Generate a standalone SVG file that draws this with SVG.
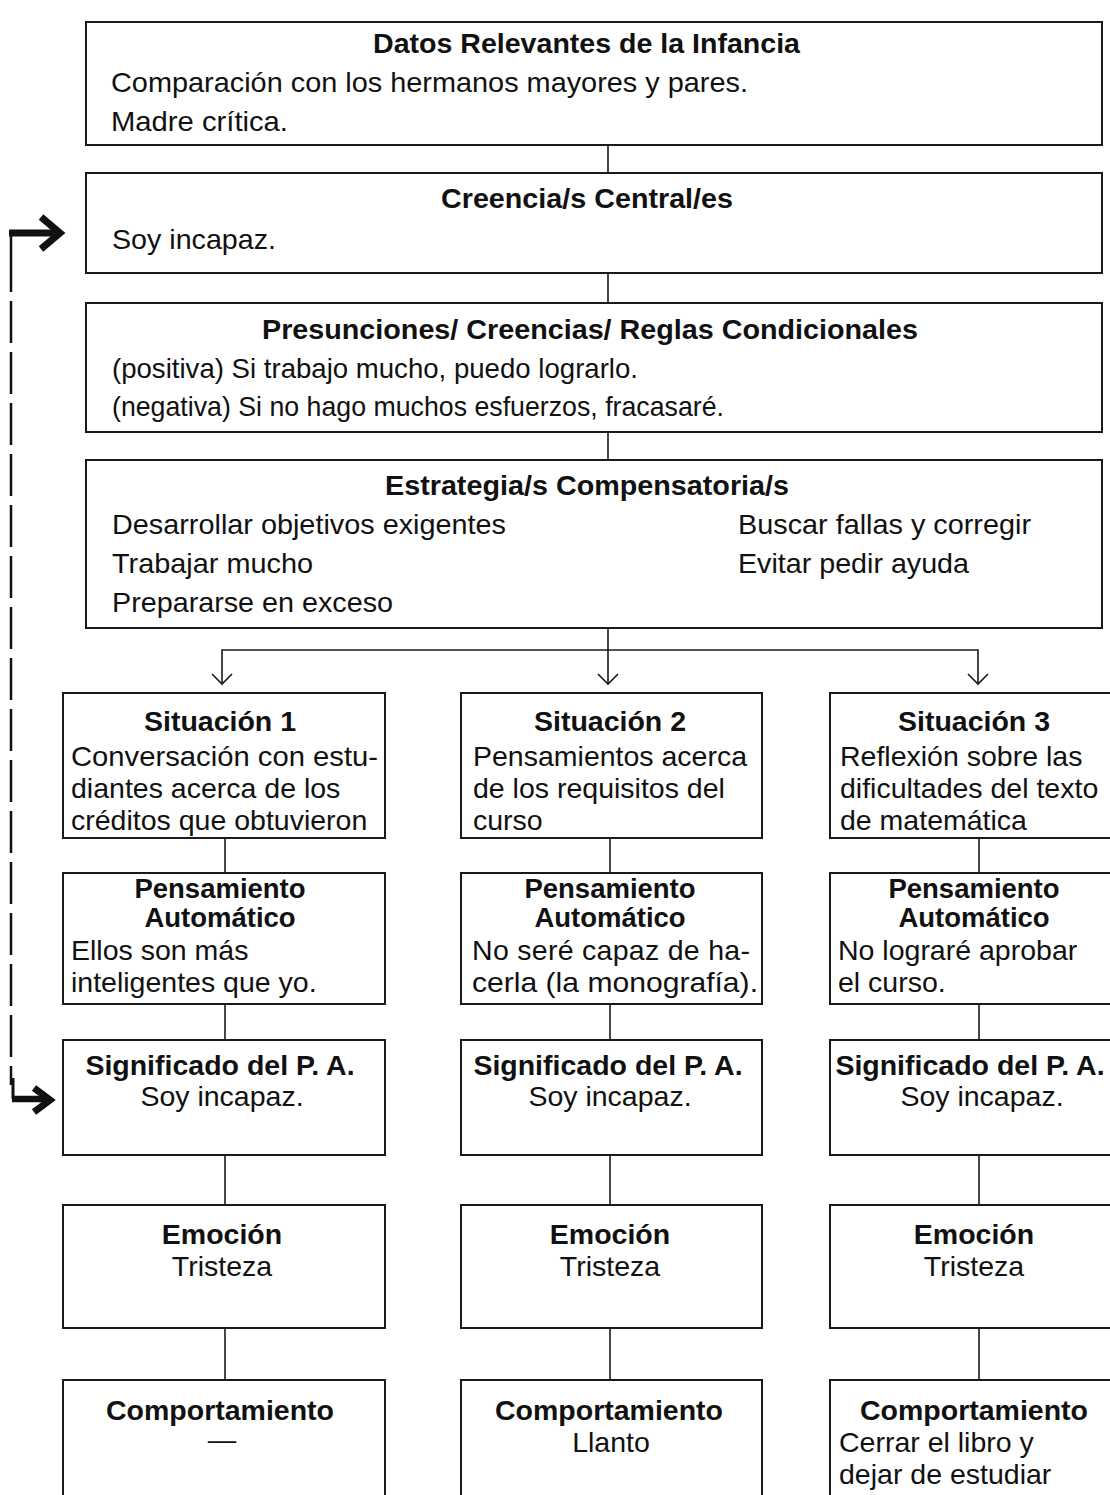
<svg xmlns="http://www.w3.org/2000/svg" width="1110" height="1495" viewBox="0 0 1110 1495">
<style>
.box{fill:#fff;stroke:#1a1a1a;stroke-width:2}
.ln{fill:none;stroke:#1a1a1a;stroke-width:1.6}
.t{font-family:"Liberation Sans",Arial,sans-serif;font-size:28.5px;fill:#111}
.b{font-weight:bold}
.c{text-anchor:middle}
.p{font-size:27.5px}
.hd{fill:none;stroke:#111;stroke-width:7;stroke-linejoin:miter}
</style>
<rect width="1110" height="1495" fill="#fff"/>

<g id="connectors">
<line class="ln" x1="608" y1="145" x2="608" y2="173"/>
<line class="ln" x1="608" y1="273" x2="608" y2="303"/>
<line class="ln" x1="608" y1="432" x2="608" y2="460"/>
<line class="ln" x1="608" y1="628" x2="608" y2="650"/>
<path class="ln" d="M222,684 L222,650 L978,650 L978,684 M608,650 L608,684"/>
<path class="ln" d="M212,674 L222,684 L232,674 M598,674 L608,684 L618,674 M968,674 L978,684 L988,674"/>
<line class="ln" x1="225" y1="838" x2="225" y2="873"/>
<line class="ln" x1="610" y1="838" x2="610" y2="873"/>
<line class="ln" x1="979" y1="838" x2="979" y2="873"/>
<line class="ln" x1="225" y1="1004" x2="225" y2="1040"/>
<line class="ln" x1="610" y1="1004" x2="610" y2="1040"/>
<line class="ln" x1="979" y1="1004" x2="979" y2="1040"/>
<line class="ln" x1="225" y1="1155" x2="225" y2="1205"/>
<line class="ln" x1="610" y1="1155" x2="610" y2="1205"/>
<line class="ln" x1="979" y1="1155" x2="979" y2="1205"/>
<line class="ln" x1="225" y1="1328" x2="225" y2="1380"/>
<line class="ln" x1="610" y1="1328" x2="610" y2="1380"/>
<line class="ln" x1="979" y1="1328" x2="979" y2="1380"/>
<path d="M11,250 L11,1085" fill="none" stroke="#111" stroke-width="2.5" stroke-dasharray="42,9"/>
<path d="M11,250 L11,233" fill="none" stroke="#111" stroke-width="2.5"/>
<path d="M9,233 L54,233" fill="none" stroke="#111" stroke-width="7"/>
<path class="hd" d="M41,217 L60,233 L41,249"/>
<path d="M13,1078 L13,1099" fill="none" stroke="#111" stroke-width="3"/>
<path d="M12,1099 L46,1099" fill="none" stroke="#111" stroke-width="6.5"/>
<path class="hd" d="M34,1088 L50,1100 L34,1112"/>
</g>

<g id="n-infancia">
<rect class="box" x="86" y="22" width="1016" height="123"/>
<text class="t b" x="373" y="53" textLength="427" lengthAdjust="spacingAndGlyphs">Datos Relevantes de la Infancia</text>
<text class="t" x="111" y="92" textLength="637" lengthAdjust="spacingAndGlyphs">Comparación con los hermanos mayores y pares.</text>
<text class="t" x="111" y="131" textLength="177" lengthAdjust="spacingAndGlyphs">Madre crítica.</text>
</g>

<g id="n-creencias">
<rect class="box" x="86" y="173" width="1016" height="100"/>
<text class="t b" x="441" y="208" textLength="292" lengthAdjust="spacingAndGlyphs">Creencia/s Central/es</text>
<text class="t" x="112" y="249" textLength="164" lengthAdjust="spacingAndGlyphs">Soy incapaz.</text>
</g>

<g id="n-presunciones">
<rect class="box" x="86" y="303" width="1016" height="129"/>
<text class="t b" x="262" y="339" textLength="656" lengthAdjust="spacingAndGlyphs">Presunciones/ Creencias/ Reglas Condicionales</text>
<text class="t" x="112" y="378" textLength="526" lengthAdjust="spacingAndGlyphs">(positiva) Si trabajo mucho, puedo lograrlo.</text>
<text class="t" x="112" y="416" textLength="612" lengthAdjust="spacingAndGlyphs">(negativa) Si no hago muchos esfuerzos, fracasaré.</text>
</g>

<g id="n-estrategias">
<rect class="box" x="86" y="460" width="1016" height="168"/>
<text class="t b" x="385" y="495" textLength="404" lengthAdjust="spacingAndGlyphs">Estrategia/s Compensatoria/s</text>
<text class="t" x="112" y="534" textLength="394" lengthAdjust="spacingAndGlyphs">Desarrollar objetivos exigentes</text>
<text class="t" x="112" y="573" textLength="201" lengthAdjust="spacingAndGlyphs">Trabajar mucho</text>
<text class="t" x="112" y="612" textLength="281" lengthAdjust="spacingAndGlyphs">Prepararse en exceso</text>
<text class="t" x="738" y="534" textLength="293" lengthAdjust="spacingAndGlyphs">Buscar fallas y corregir</text>
<text class="t" x="738" y="573" textLength="231" lengthAdjust="spacingAndGlyphs">Evitar pedir ayuda</text>
</g>

<g id="n-situacion1">
<rect class="box" x="63" y="693" width="322" height="145"/>
<text class="t b c" x="220" y="731">Situación 1</text>
<text class="t" x="71" y="766" textLength="307" lengthAdjust="spacingAndGlyphs">Conversación con estu-</text>
<text class="t" x="71" y="798">diantes acerca de los</text>
<text class="t" x="71" y="830">créditos que obtuvieron</text>
</g>
<g id="n-situacion2">
<rect class="box" x="461" y="693" width="301" height="145"/>
<text class="t b c" x="610" y="731">Situación 2</text>
<text class="t" x="473" y="766">Pensamientos acerca</text>
<text class="t" x="473" y="798">de los requisitos del</text>
<text class="t" x="473" y="830">curso</text>
</g>
<g id="n-situacion3">
<rect class="box" x="830" y="693" width="290" height="145"/>
<text class="t b c" x="974" y="731">Situación 3</text>
<text class="t" x="840" y="766">Reflexión sobre las</text>
<text class="t" x="840" y="798">dificultades del texto</text>
<text class="t" x="840" y="830">de matemática</text>
</g>

<g id="n-pensamiento1">
<rect class="box" x="63" y="873" width="322" height="131"/>
<text class="t b c p" x="220" y="898">Pensamiento</text>
<text class="t b c p" x="220" y="927">Automático</text>
<text class="t" x="71" y="960">Ellos son más</text>
<text class="t" x="71" y="992">inteligentes que yo.</text>
</g>
<g id="n-pensamiento2">
<rect class="box" x="461" y="873" width="301" height="131"/>
<text class="t b c p" x="610" y="898">Pensamiento</text>
<text class="t b c p" x="610" y="927">Automático</text>
<text class="t" x="472" y="960" textLength="278" lengthAdjust="spacing">No seré capaz de ha-</text>
<text class="t" x="472" y="992" textLength="286" lengthAdjust="spacingAndGlyphs">cerla (la monografía).</text>
</g>
<g id="n-pensamiento3">
<rect class="box" x="830" y="873" width="290" height="131"/>
<text class="t b c p" x="974" y="898">Pensamiento</text>
<text class="t b c p" x="974" y="927">Automático</text>
<text class="t" x="838" y="960">No lograré aprobar</text>
<text class="t" x="838" y="992">el curso.</text>
</g>

<g id="n-significado1">
<rect class="box" x="63" y="1040" width="322" height="115"/>
<text class="t b c" x="220" y="1075">Significado del P. A.</text>
<text class="t c" x="222" y="1106">Soy incapaz.</text>
</g>
<g id="n-significado2">
<rect class="box" x="461" y="1040" width="301" height="115"/>
<text class="t b c" x="608" y="1075">Significado del P. A.</text>
<text class="t c" x="610" y="1106">Soy incapaz.</text>
</g>
<g id="n-significado3">
<rect class="box" x="830" y="1040" width="290" height="115"/>
<text class="t b c" x="970" y="1075">Significado del P. A.</text>
<text class="t c" x="982" y="1106">Soy incapaz.</text>
</g>

<g id="n-emocion1">
<rect class="box" x="63" y="1205" width="322" height="123"/>
<text class="t b c" x="222" y="1244">Emoción</text>
<text class="t c" x="222" y="1276">Tristeza</text>
</g>
<g id="n-emocion2">
<rect class="box" x="461" y="1205" width="301" height="123"/>
<text class="t b c" x="610" y="1244">Emoción</text>
<text class="t c" x="610" y="1276">Tristeza</text>
</g>
<g id="n-emocion3">
<rect class="box" x="830" y="1205" width="290" height="123"/>
<text class="t b c" x="974" y="1244">Emoción</text>
<text class="t c" x="974" y="1276">Tristeza</text>
</g>

<g id="n-comportamiento1">
<rect class="box" x="63" y="1380" width="322" height="130"/>
<text class="t b c" x="220" y="1420">Comportamiento</text>
<text class="t c" x="222" y="1449">—</text>
</g>
<g id="n-comportamiento2">
<rect class="box" x="461" y="1380" width="301" height="130"/>
<text class="t b c" x="609" y="1420">Comportamiento</text>
<text class="t c" x="611" y="1452">Llanto</text>
</g>
<g id="n-comportamiento3">
<rect class="box" x="830" y="1380" width="290" height="130"/>
<text class="t b c" x="974" y="1420">Comportamiento</text>
<text class="t" x="839" y="1452">Cerrar el libro y</text>
<text class="t" x="839" y="1484">dejar de estudiar</text>
</g>
</svg>
